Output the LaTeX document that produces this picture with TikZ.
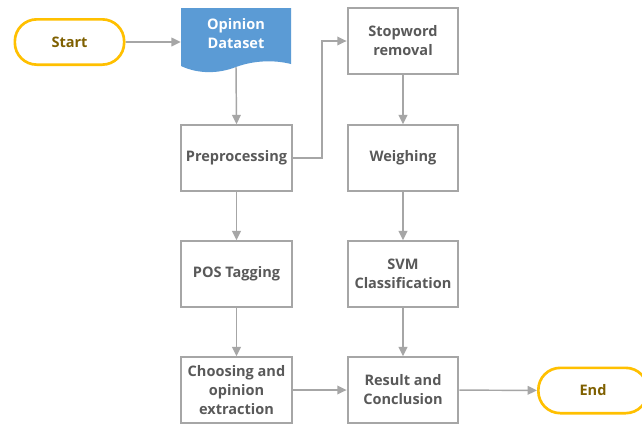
\documentclass[tikz,border=0pt]{standalone}
\usepackage{fontspec}
\setmainfont{Open Sans}
\usetikzlibrary{arrows.meta}
\definecolor{boxgray}{HTML}{A6A6A6}
\definecolor{txtgray}{HTML}{595959}
\definecolor{termyellow}{HTML}{FFC000}
\definecolor{termtext}{HTML}{7F6000}
\definecolor{docblue}{HTML}{5B9BD5}
\begin{document}
\begin{tikzpicture}[x=0.75pt,y=0.75pt,yscale=-1,xscale=1,
	boxfont/.style={font=\bfseries\fontsize{10.9}{14.2}\selectfont},
	procbox/.style={boxfont,draw=boxgray,line width=1.6pt,fill=white,minimum width=83pt,minimum height=49pt,align=center,text=txtgray,inner sep=1pt},
	termbox/.style={boxfont,draw=termyellow,line width=2pt,fill=white,rounded corners=16.5pt,minimum width=82pt,minimum height=34pt,text=termtext},
	flow/.style={draw=boxgray,line width=1.1pt,-{Triangle[length=7pt,width=6.5pt]}}]
		\clip (0,0) rectangle (642,425);
		\fill[white] (0,0) rectangle (642,425);
		\fill[docblue] (181,8) -- (291,8) -- (291,64) .. controls (275,60) and (255,60) .. (236,67) .. controls (218,74) and (198,74) .. (181,66) -- cycle;
		\node[termbox] (start) at (69.5,42) {Start};
		\node[boxfont,text=white,align=center,minimum width=82.5pt,minimum height=42pt] (data) at (236,34) {Opinion\\Dataset};
		\coordinate (dataout) at (236,67);
		\node[procbox] (pre) at (236.5,158) {Preprocessing};
		\node[procbox] (pos) at (236.5,274) {POS Tagging};
		\node[procbox] (choose) at (236.5,390) {Choosing and\\opinion\\extraction};
		\node[procbox] (stop) at (403,41) {Stopword\\removal};
		\node[procbox] (weigh) at (403,158) {Weighing};
		\node[procbox] (svm) at (403,274) {SVM\\Classification};
		\node[procbox] (result) at (403,390) {Result and\\Conclusion};
		\node[termbox] (end) at (593,390.5) {End};
		\draw[flow] (start.east) -- (data.west |- start.east);
		\draw[flow] (dataout) -- (pre.north);
		\draw[flow] (pre.east) -- ++(29,0) |- (stop.west);
		\draw[flow] (pre) -- (pos);
		\draw[flow] (pos) -- (choose);
		\draw[flow] (stop) -- (weigh);
		\draw[flow] (weigh) -- (svm);
		\draw[flow] (svm) -- (result);
		\draw[flow] (choose) -- (result);
		\draw[flow] (result) -- (end);
\end{tikzpicture}
\end{document}
